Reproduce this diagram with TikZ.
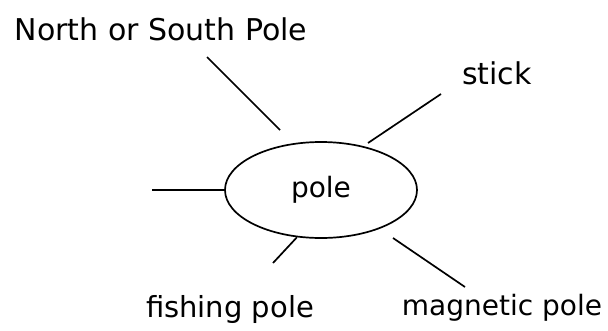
\documentclass[tikz,border=0pt]{standalone}
\usepackage{fontspec}
\setmainfont{DejaVu Sans}
\usetikzlibrary{shapes.geometric}
\begin{document}
\begin{tikzpicture}[x=1pt,y=-1pt,
  word/.style={inner sep=0pt,anchor=base,font=\fontsize{30}{36}\selectfont},
  link/.style={line width=1.7pt}]
\useasboundingbox (0,0) rectangle (608,330);
% central idea
\node[ellipse,draw,line width=1.7pt,minimum width=192pt,minimum height=96pt,inner sep=0pt,
      font=\fontsize{28}{34}\selectfont] (pole) at (321,190) {pole};
% surrounding words
\node[word] (ns) at (161,40) {North or South Pole};
\node[word] (stick) at (497,84) {stick};
\node[word,font=\fontsize{29}{35}\selectfont] (fish) at (230,317) {fishing pole};
\node[word,font=\fontsize{28}{34}\selectfont] (mag) at (502,315) {magnetic pole};
% free ends of the links
\coordinate (a1) at (207,57);  \coordinate (a2) at (280,130);
\coordinate (b1) at (441,94);  \coordinate (b2) at (368,143);
\coordinate (c1) at (152,190);
\coordinate (d2) at (273,263);
\coordinate (e1) at (393,238); \coordinate (e2) at (465,287);
% links
\draw[link] (a1) -- (a2);
\draw[link] (b1) -- (b2);
\draw[link] (c1) -- (pole.west);
\draw[link] (pole.-117) -- (d2);
\draw[link] (e1) -- (e2);
\end{tikzpicture}
\end{document}
